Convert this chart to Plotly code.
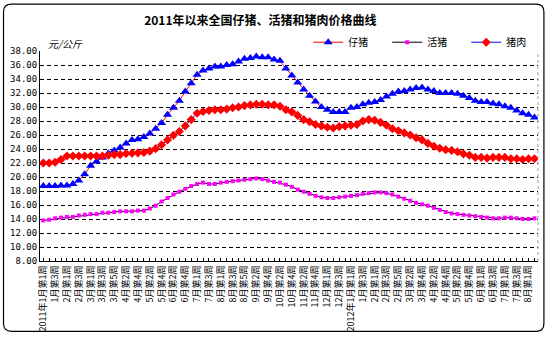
import plotly.graph_objects as go

# ---------------- data ----------------
labels_2011 = ["2011年1月第1周", "1月第3周", "2月第1周", "2月第3周", "3月第1周", "3月第3周", "3月第5周",
               "4月第2周", "4月第4周", "5月第2周", "5月第4周", "6月第2周", "6月第4周", "7月第1周",
               "7月第3周", "8月第1周", "8月第3周", "8月第5周", "9月第2周", "9月第4周", "10月第2周",
               "10月第4周", "11月第2周", "11月第4周", "12月第1周", "12月第3周"]
labels_2012 = ["2012年1月第1周", "1月第3周", "2月第1周", "2月第3周", "2月第5周", "3月第2周", "3月第4周",
               "4月第2周", "4月第4周", "5月第2周", "5月第4周", "6月第1周", "6月第3周", "7月第1周",
               "7月第3周", "8月第1周"]
tick_labels = labels_2011 + labels_2012

piglet = [18.7, 18.7, 18.7, 18.8, 18.8, 19.0, 19.5, 20.4, 21.6, 22.2, 22.8, 23.4, 23.8, 24.2,
          24.8, 25.3, 25.4, 25.7, 26.2, 26.9, 27.7, 28.9, 29.9, 30.9, 32.2, 33.4, 34.6, 35.2,
          35.5, 35.8, 35.8, 36.0, 36.1, 36.5, 36.9, 37.0, 37.2, 37.1, 37.1, 36.8, 36.6, 35.5,
          34.5, 33.5, 32.5, 31.6, 30.8, 30.0, 29.6, 29.3, 29.3, 29.3, 29.9, 30.0, 30.4, 30.6,
          30.7, 31.0, 31.5, 31.9, 32.2, 32.3, 32.5, 32.7, 32.8, 32.5, 32.3, 32.0, 32.0, 32.0,
          31.9, 31.6, 31.3, 30.9, 30.7, 30.7, 30.5, 30.4, 30.1, 29.9, 29.5, 29.1, 28.9, 28.5]

live_hog = [13.8, 13.9, 14.1, 14.2, 14.3, 14.3, 14.5, 14.6, 14.7, 14.7, 14.9, 14.9, 15.0, 15.1,
            15.1, 15.1, 15.2, 15.2, 15.5, 15.9, 16.5, 17.0, 17.5, 17.9, 18.3, 18.7, 19.0, 19.2,
            19.0, 19.0, 19.2, 19.3, 19.4, 19.5, 19.6, 19.7, 19.8, 19.7, 19.5, 19.3, 19.2, 18.9,
            18.6, 18.2, 17.9, 17.6, 17.3, 17.1, 17.0, 17.0, 17.1, 17.2, 17.3, 17.4, 17.6, 17.7,
            17.8, 17.8, 17.7, 17.5, 17.2, 16.9, 16.6, 16.3, 16.1, 15.9, 15.6, 15.3, 15.0, 14.8,
            14.7, 14.6, 14.5, 14.4, 14.3, 14.2, 14.1, 14.1, 14.2, 14.2, 14.1, 14.0, 14.0, 14.1]

pork = [22.0, 22.0, 22.1, 22.5, 23.0, 23.0, 23.0, 23.0, 23.0, 23.0, 23.0, 23.1, 23.2, 23.2,
        23.35, 23.4, 23.45, 23.5, 23.7, 24.05, 24.6, 25.3, 25.95, 26.5, 27.3, 28.2, 29.1, 29.35,
        29.5, 29.6, 29.6, 29.7, 29.9, 30.0, 30.2, 30.3, 30.4, 30.4, 30.3, 30.3, 30.1, 29.6,
        29.3, 28.8, 28.2, 27.9, 27.5, 27.3, 27.1, 27.0, 27.2, 27.3, 27.4, 27.5, 28.0, 28.2,
        28.1, 27.8, 27.4, 26.9, 26.6, 26.3, 26.0, 25.6, 25.3, 24.8, 24.4, 24.1, 23.9, 23.8,
        23.6, 23.3, 23.1, 22.8, 22.8, 22.7, 22.8, 22.8, 22.8, 22.6, 22.6, 22.5, 22.6, 22.6]

series_names = ["仔猪", "活猪", "猪肉"]

# ---------------- figure ----------------
W, H = 554, 341
L, R, T, B = 40, 9, 51, 75
FONT = "Noto Sans CJK SC"

x = list(range(len(piglet)))
tickvals = x[::2][:len(tick_labels)]

fig = go.Figure()
fig.add_trace(go.Scatter(x=x, y=piglet, name=series_names[0], mode="lines+markers",
                         line=dict(color="#ff0000", width=1),
                         marker=dict(symbol="triangle-up", size=8, color="#0000ff")))
fig.add_trace(go.Scatter(x=x, y=live_hog, name=series_names[1], mode="lines+markers",
                         line=dict(color="#000000", width=1),
                         marker=dict(symbol="square", size=4, color="#ff00ff")))
fig.add_trace(go.Scatter(x=x, y=pork, name=series_names[2], mode="lines+markers",
                         line=dict(color="#0000ff", width=1),
                         marker=dict(symbol="diamond", size=7, color="#ff0000")))

pw, ph = W - L - R, H - T - B
def px(v):
    return (v - L) / pw
def py(v):
    return (H - B - v) / ph

# rounded outer border
x0, x1, y0, y1, r = px(3), px(551), py(3), py(338), 8
rx, ry = r / pw, r / ph
path = (f"M {x0+rx},{y0} L {x1-rx},{y0} Q {x1},{y0} {x1},{y0-ry} "
        f"L {x1},{y1+ry} Q {x1},{y1} {x1-rx},{y1} L {x0+rx},{y1} Q {x0},{y1} {x0},{y1+ry} "
        f"L {x0},{y0-ry} Q {x0},{y0} {x0+rx},{y0} Z")

fig.update_layout(
    width=W, height=H,
    margin=dict(l=L, r=R, t=T, b=B),
    paper_bgcolor="white", plot_bgcolor="white",
    font=dict(family=FONT, size=9, color="black"),
    title=dict(text="<b>2011年以来全国仔猪、活猪和猪肉价格曲线</b>", x=0.47, xanchor="center",
               y=1 - 21 / H, yanchor="middle", font=dict(size=12, family=FONT)),
    showlegend=True,
    legend=dict(orientation="h", x=px(312), xanchor="left", y=py(42), yanchor="middle",
                entrywidth=34, entrywidthmode="pixels", font=dict(size=10, family=FONT),
                bgcolor="rgba(0,0,0,0)", itemwidth=30, tracegroupgap=0),
    shapes=[
        dict(type="path", path=path, xref="paper", yref="paper",
             line=dict(color="black", width=1.2), layer="below"),
        dict(type="line", xref="paper", yref="paper", x0=1, x1=1, y0=0, y1=1,
             line=dict(color="#999999", width=1, dash="dot")),
    ],
    annotations=[
        dict(text="<i>元/公斤</i>", xref="paper", yref="paper", x=px(46), y=py(43),
             xanchor="left", yanchor="middle", showarrow=False, font=dict(size=10, family=FONT)),
    ],
)

fig.update_xaxes(
    range=[-0.55, 83.6], tickmode="array", tickvals=tickvals, ticktext=tick_labels,
    tickangle=-90, showgrid=False, showline=True, linecolor="black", linewidth=1,
    ticks="inside", ticklen=3, tickcolor="black",
    minor=dict(ticks="inside", ticklen=3, dtick=1, tick0=0, tickcolor="black", showgrid=False),
    tickfont=dict(size=9, family=FONT), zeroline=False,
)
fig.update_yaxes(
    range=[8, 38], dtick=2, tick0=8, tickformat=".2f",
    showgrid=True, gridcolor="black", gridwidth=1, griddash="4px,3px",
    showline=True, linecolor="black", linewidth=1, zeroline=False,
    ticks="", tickfont=dict(size=9, family="DejaVu Sans Mono"),
)

fig.write_html("out.html")
